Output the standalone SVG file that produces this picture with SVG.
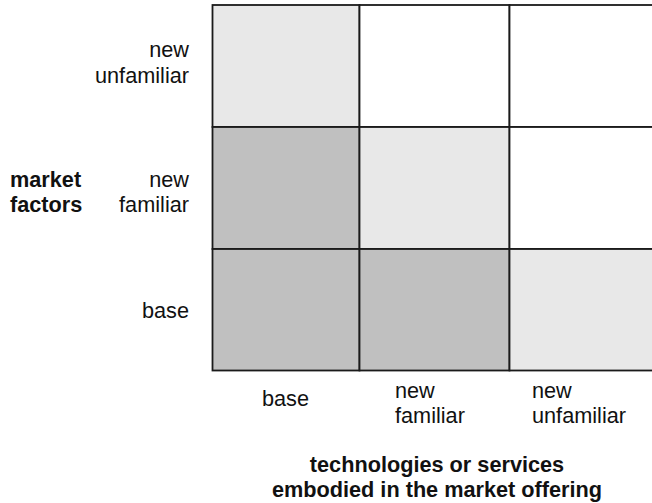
<svg xmlns="http://www.w3.org/2000/svg" width="652" height="503" viewBox="0 0 652 503">
<style>
.cell{stroke:#1a1a1a;stroke-width:1.8}
.w{fill:#ffffff}
.l{fill:#e8e8e8}
.d{fill:#c0c0c0}
text{font-family:"Liberation Sans",Arial,sans-serif;font-size:21.7px;fill:#111}
.b{font-weight:bold}
.r{text-anchor:end}
.m{text-anchor:middle}
</style>
<rect width="652" height="503" fill="#ffffff"/>
<g id="grid">
<g id="cell-r0c0"><rect class="cell l" x="212.5" y="5" width="147" height="122"/></g>
<g id="cell-r0c1"><rect class="cell w" x="359.5" y="5" width="150" height="122"/></g>
<g id="cell-r0c2"><rect class="cell w" x="509.5" y="5" width="150" height="122"/></g>
<g id="cell-r1c0"><rect class="cell d" x="212.5" y="127" width="147" height="122"/></g>
<g id="cell-r1c1"><rect class="cell l" x="359.5" y="127" width="150" height="122"/></g>
<g id="cell-r1c2"><rect class="cell w" x="509.5" y="127" width="150" height="122"/></g>
<g id="cell-r2c0"><rect class="cell d" x="212.5" y="249" width="147" height="121.5"/></g>
<g id="cell-r2c1"><rect class="cell d" x="359.5" y="249" width="150" height="121.5"/></g>
<g id="cell-r2c2"><rect class="cell l" x="509.5" y="249" width="150" height="121.5"/></g>
</g>
<g id="row-labels">
<text class="r" x="189" y="57">new</text>
<text class="r" x="189" y="83">unfamiliar</text>
<text class="r" x="189" y="186.5">new</text>
<text class="r" x="189" y="212">familiar</text>
<text class="r" x="189" y="318">base</text>
</g>
<g id="axis-y">
<text class="b" x="10" y="186.5">market</text>
<text class="b" x="10" y="212">factors</text>
</g>
<g id="col-labels">
<text x="262" y="406">base</text>
<text x="395" y="398">new</text>
<text x="395" y="423">familiar</text>
<text x="532" y="398">new</text>
<text x="532" y="423">unfamiliar</text>
</g>
<g id="axis-x">
<text class="b m" x="437" y="472">technologies or services</text>
<text class="b m" x="437" y="497">embodied in the market offering</text>
</g>
</svg>
